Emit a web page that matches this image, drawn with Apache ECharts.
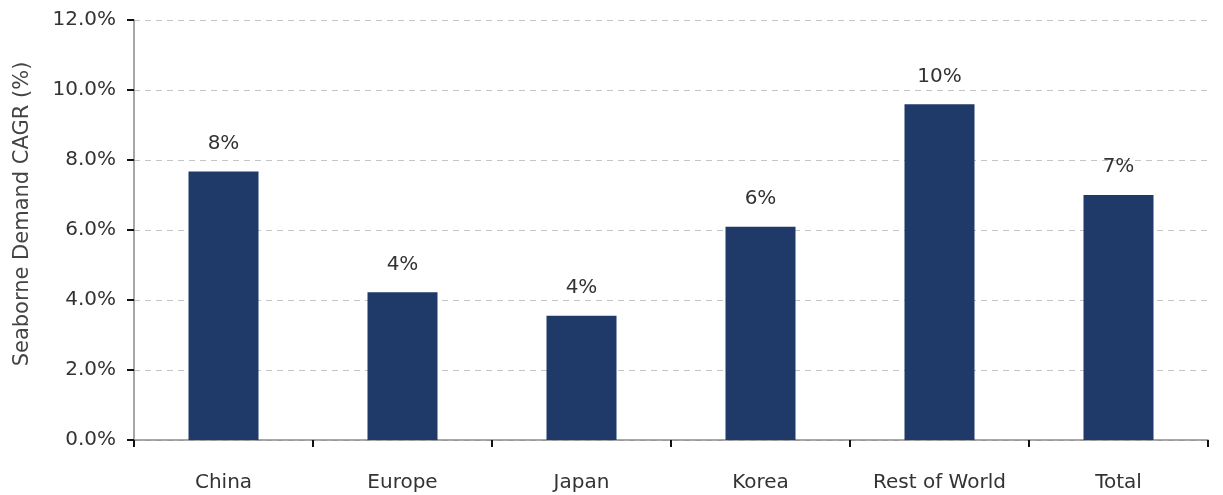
<!DOCTYPE html>
<html>
<head>
<meta charset="utf-8">
<script src="https://cdn.jsdelivr.net/npm/echarts@6/dist/echarts.min.js"></script>
<style>html,body{margin:0;padding:0;background:#fff;}#c{width:1223px;height:495px;}</style>
</head>
<body>
<div id="c"></div>
<script>
const categories = ['China', 'Europe', 'Japan', 'Korea', 'Rest of World', 'Total'];
const cagr = [7.67, 4.22, 3.55, 6.09, 9.59, 7.0];
const yTicks = [0, 2, 4, 6, 8, 10, 12];

const chart = echarts.init(document.getElementById('c'), null, {renderer: 'canvas'});
const font = 'DejaVu Sans, Liberation Sans, sans-serif';
chart.setOption({
  animation: false,
  grid: {left: 134, right: 15, top: 20, bottom: 55},
  xAxis: {
    type: 'category',
    data: categories,
    axisLine: {lineStyle: {color: '#8a8a8a', width: 1.5}},
    axisTick: {show: true, length: 7, lineStyle: {color: '#111', width: 2}},
    axisLabel: {color: '#333', fontSize: 20, fontFamily: font, margin: 33}
  },
  yAxis: {
    type: 'value',
    min: yTicks[0], max: yTicks[yTicks.length - 1], interval: 2,
    name: 'Seaborne Demand CAGR (%)',
    nameLocation: 'middle',
    nameGap: 101,
    nameTextStyle: {color: '#444', fontSize: 21, fontFamily: font, padding: [0, 0, 0, 32]},
    axisLine: {show: true, lineStyle: {color: '#8a8a8a', width: 1.5}},
    axisTick: {show: true, length: 7, lineStyle: {color: '#111', width: 2}},
    axisLabel: {color: '#333', fontSize: 20, fontFamily: font, margin: 18,
      formatter: v => v.toFixed(1) + '%'},
    splitLine: {show: true, lineStyle: {color: '#c4c4c4', type: [6, 5], width: 1}}
  },
  series: [{
    type: 'bar',
    data: cagr,
    barWidth: 70,
    itemStyle: {color: '#1f3a68'},
    label: {show: true, position: 'top', distance: 18, color: '#333', fontSize: 20, fontFamily: font,
      formatter: p => Math.round(p.value) + '%'}
  }]
});
</script>
</body>
</html>
